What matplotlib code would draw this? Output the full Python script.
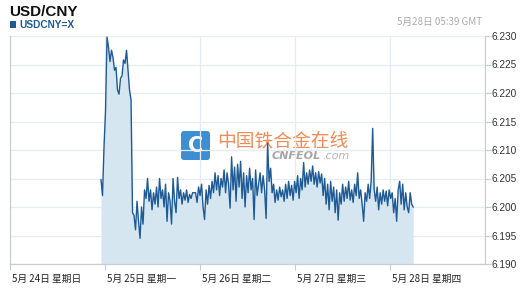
import numpy as np
import matplotlib
matplotlib.use("Agg")
import matplotlib.pyplot as plt
import matplotlib.transforms as mtransforms
from matplotlib.patches import FancyBboxPatch

# ---- data ----
title = "USD/CNY"
series_name = "USDCNY=X"
timestamp = "5月28日 05:39 GMT"
day_labels = ["5月 24日 星期日", "5月 25日 星期一", "5月 26日 星期二", "5月 27日 星期三", "5月 28日 星期四"]
y_ticks = [6.190, 6.195, 6.200, 6.205, 6.210, 6.215, 6.220, 6.225, 6.230]
start_day = 0.958   # days after 5/24 00:00
end_day = 4.244

values = [
    6.2048, 6.2020, 6.2105, 6.2168, 6.2298, 6.2280, 6.2255, 6.2275, 6.2262, 6.2240,
    6.2245, 6.2205, 6.2198, 6.2226, 6.2230, 6.2258, 6.2252, 6.2275, 6.2240, 6.2205,
    6.2188, 6.1990,
    6.1985, 6.1960, 6.2010, 6.1975, 6.1945, 6.2000, 6.1970, 6.2030, 6.2015, 6.2050,
    6.2010, 6.2030, 6.1995, 6.2025, 6.2005, 6.2035, 6.2000, 6.2050, 6.2015, 6.2030,
    6.2000, 6.2040, 6.1975, 6.2025, 6.2010, 6.1970, 6.2050, 6.2010, 6.1990, 6.2052,
    6.2015, 6.2030, 6.2005, 6.2025, 6.2012, 6.2030, 6.2008, 6.2022, 6.2015, 6.2025,
    6.2025, 6.2025, 6.2008, 6.2035, 6.2020,
    6.2040, 6.2000, 6.1978, 6.2030, 6.2005, 6.2038, 6.2015, 6.2045, 6.2025, 6.2060,
    6.2030, 6.2055, 6.2020, 6.2050, 6.2035, 6.2065, 6.2025, 6.2060, 6.2040, 6.1998,
    6.2088, 6.2030, 6.2070, 6.2010, 6.2075, 6.2035, 6.2080, 6.2015, 6.2060, 6.2000,
    6.2055, 6.2025, 6.2068, 6.2030, 6.2050,
    6.1978, 6.2065, 6.2020, 6.2040, 6.2060, 6.2025, 6.2055, 6.2030, 6.1980, 6.2112,
    6.2045, 6.2068, 6.2025, 6.2040, 6.2008, 6.2030, 6.2012, 6.2035, 6.2018, 6.2030,
    6.2010, 6.2040, 6.2015, 6.2045, 6.2020, 6.2038, 6.2012, 6.2045, 6.2025, 6.2055,
    6.2015, 6.2050, 6.2030, 6.2078, 6.2035,
    6.2060, 6.2040, 6.2065, 6.2045, 6.2072, 6.2040, 6.2060, 6.2035, 6.2062, 6.2042,
    6.2058, 6.2020, 6.2050, 6.2005, 6.2040, 6.1995, 6.2045, 6.2010, 6.2035, 6.1990,
    6.2030, 6.1977, 6.2025, 6.2005, 6.2040, 6.2010, 6.2035, 6.2015, 6.2045, 6.2012,
    6.2030, 6.2008, 6.2040, 6.2020, 6.2060,
    6.2015, 6.2030, 6.2005, 6.1975, 6.2025, 6.2010, 6.2040, 6.2015, 6.2045, 6.2138,
    6.2030, 6.2010, 6.2035, 6.1995, 6.2025, 6.2005, 6.2030, 6.2010, 6.2028, 6.2002,
    6.2030, 6.2015, 6.2025, 6.1990, 6.2015, 6.1975, 6.2030, 6.2045, 6.2005, 6.2040,
    6.1995, 6.2025, 6.2000, 6.1990, 6.2025, 6.2005, 6.2000,
]

t = np.linspace(start_day, end_day, len(values))

# ---- figure ----
W, H = 532, 292
fig = plt.figure(figsize=(W / 100, H / 100), dpi=100)
ax = fig.add_axes([10 / W, 1 - 264 / H, 475 / W, 228 / H])

line_c = "#1d5a96"
fill_c = "#d6e6f1"
grid_c = "#e6ecf3"
axis_c = "#c8cdd3"

ax.fill_between(t, values, 6.19, color=fill_c, lw=0, zorder=1)
ax.plot(t, values, color=line_c, lw=1.0, zorder=4)

ax.set_xlim(0, 5)
ax.set_ylim(6.190, 6.230)
ax.set_xticks(range(len(day_labels)))
ax.set_xticklabels(day_labels, ha="left", family=["Noto Sans CJK SC", "DejaVu Sans"], fontsize=7)
ax.set_yticks(y_ticks)
ax.set_yticklabels([f"{v:.3f}" for v in y_ticks], family="Liberation Sans", fontsize=7.3, color="#333333")
ax.yaxis.tick_right()
ax.tick_params(axis="y", direction="out", length=4, width=0.8, color=axis_c, pad=1)
ax.tick_params(axis="x", direction="out", length=4, width=0.8, color=axis_c, pad=3, labelcolor="#222222")
offset = mtransforms.ScaledTranslation(2 / 100, 0, fig.dpi_scale_trans)
for lbl in ax.get_xticklabels():
    lbl.set_transform(lbl.get_transform() + offset)

ax.grid(True, color=grid_c, lw=0.9, zorder=0)
ax.set_axisbelow(True)
ax.spines["top"].set_visible(False)
for s in ["left", "bottom", "right"]:
    ax.spines[s].set_color(axis_c)
    ax.spines[s].set_linewidth(0.9)

# ---- watermark ----
wm = fig.add_axes([0, 0, 1, 1], zorder=0.5)
wm.set_xlim(0, W)
wm.set_ylim(H, 0)
wm.axis("off")
wm.patch.set_alpha(0)
box = FancyBboxPatch((181, 131), 29, 29, boxstyle="round,pad=0,rounding_size=3",
                     fc="#3d8fd1", ec="none", zorder=2)
wm.add_patch(box)
wm.text(195.5, 145.5, "C", color="white", fontsize=15, fontweight="bold", ha="center", va="center",
        family="DejaVu Sans", zorder=3)
wm.text(217, 141, "中国铁合金在线", color="#f28b55", fontsize=13.5, ha="left", va="center",
        family=["Noto Sans CJK SC", "DejaVu Sans"], zorder=3)
wm.text(272, 156, "CNFEOL", color="#a5a5a5", fontsize=8, ha="left", va="center",
        fontweight="bold", fontstyle="italic", family="DejaVu Sans", zorder=3)
wm.text(322, 156, ".com", color="#b5b5b5", fontsize=8, ha="left", va="center",
        fontstyle="italic", family="DejaVu Sans", zorder=3)
ax.set_zorder(1)
ax.patch.set_alpha(0)

# ---- header texts ----
fig.text(9 / W, 1 - 11.5 / H, title, fontsize=11, fontweight="bold", family="Liberation Sans",
         color="#111111", va="center", ha="left")
fig.patches.append(plt.Rectangle((10 / W, 1 - 28 / H), 6 / W, 7 / H, transform=fig.transFigure,
                                 fc=line_c, ec="none", figure=fig))
fig.text(19 / W, 1 - 24.5 / H, series_name, fontsize=7.3, fontweight="bold", family="Liberation Sans",
         color=line_c, va="center", ha="left")
fig.text(482 / W, 1 - 22 / H, timestamp, fontsize=7, family=["Noto Sans CJK SC", "DejaVu Sans"],
         color="#aaaaaa", va="center", ha="right")

fig.savefig("out.png", dpi=100)
